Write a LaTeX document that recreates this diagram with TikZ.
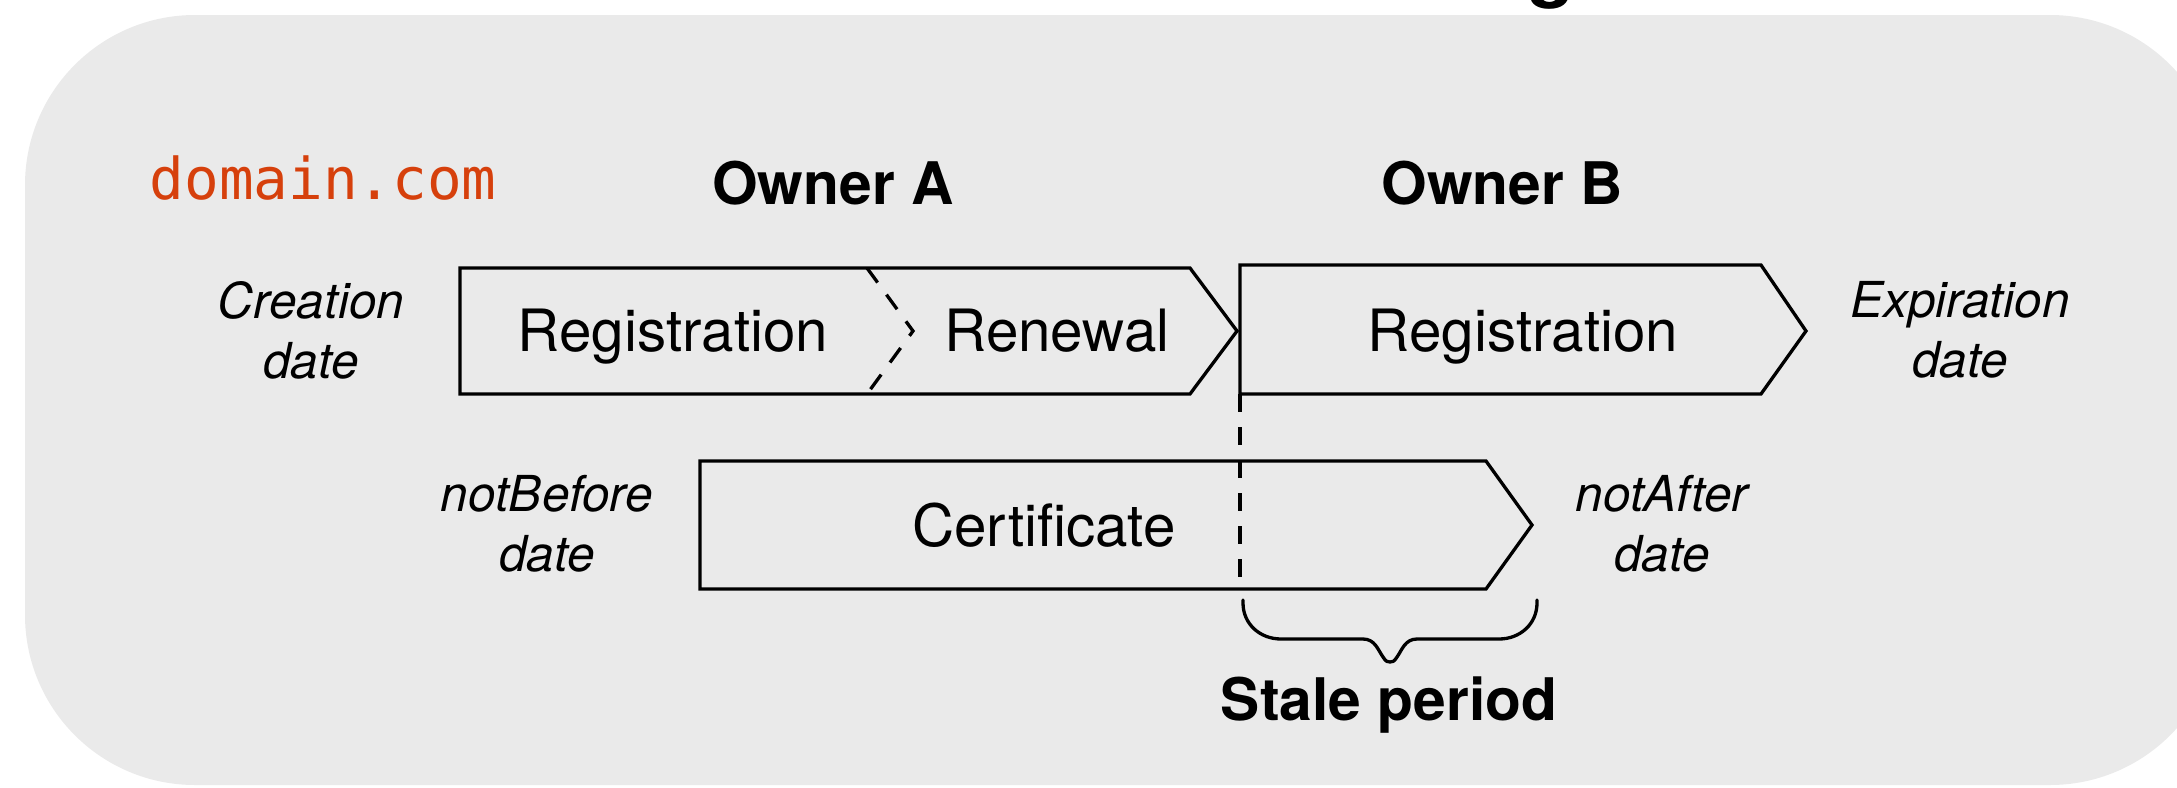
\documentclass[tikz,border=0pt]{standalone}
\usepackage{fontspec}
\setmainfont{TeX Gyre Heros}
\setmonofont{DejaVu Sans Mono}
\definecolor{panelgray}{RGB}{234,234,234}
\definecolor{domainred}{RGB}{214,64,12}

\begin{document}
\begin{tikzpicture}[x=0.1mm,y=-0.1mm,
  outline/.style={draw=black,line width=0.33mm,line join=miter},
  sepline/.style={draw=black,line width=0.33mm,dash pattern=on 1.8mm off 1.5mm},
  lbl/.style={font=\fontsize{16.6}{20}\selectfont,anchor=base,inner sep=0pt},
  head/.style={font=\fontsize{16.7}{20}\selectfont\bfseries,anchor=base,inner sep=0pt},
  datelbl/.style={font=\fontsize{14.1}{17}\selectfont\itshape,align=center,inner sep=0pt},
]
\useasboundingbox (0,0) rectangle (2177,787);

% panel
\fill[panelgray,rounded corners=17mm] (25,15) rectangle (2220,785);

% title descender peeking in from above
\node[font=\fontsize{22}{26}\selectfont\bfseries,anchor=base west,inner sep=0pt] (title) at (1527,-8) {g};

% domain and owners
\node[font=\fontsize{16.4}{20}\selectfont\ttfamily,text=domainred,anchor=base west,inner sep=0pt] (domain) at (149,199) {domain.com};
\node[head] (ownerA) at (833,204) {Owner A};
\node[head] (ownerB) at (1502,204) {Owner B};

% owner A: registration + renewal
\coordinate (a-nw) at (460,268);
\coordinate (a-sw) at (460,394);
\coordinate (a-ne) at (1190,268);
\coordinate (a-se) at (1190,394);
\coordinate (a-tip) at (1237,331);
\draw[outline] (a-nw) -- (a-ne) -- (a-tip) -- (a-se) -- (a-sw) -- cycle;
\coordinate (r-top) at (867,268);
\coordinate (r-tip) at (913,331);
\coordinate (r-bot) at (867,394);
\draw[sepline] (r-top) -- (r-tip) -- (r-bot);

% owner B: registration
\coordinate (b-nw) at (1240,265);
\coordinate (b-sw) at (1240,394);
\coordinate (b-ne) at (1761,265);
\coordinate (b-se) at (1761,394);
\coordinate (b-tip) at (1806,331);
\draw[outline] (b-nw) -- (b-ne) -- (b-tip) -- (b-se) -- (b-sw) -- cycle;

% certificate
\coordinate (c-nw) at (700,461);
\coordinate (c-sw) at (700,589);
\coordinate (c-ne) at (1486,461);
\coordinate (c-se) at (1486,589);
\coordinate (c-tip) at (1532,525);
\draw[outline] (c-nw) -- (c-ne) -- (c-tip) -- (c-se) -- (c-sw) -- cycle;

% ownership change marker
\coordinate (change-end) at (1240,582);
\draw[sepline] (b-sw) -- (change-end);

% box labels
\node[lbl] (regA) at (673,351) {Registration};
\node[lbl] (renew) at (1057,351) {Renewal};
\node[lbl] (regB) at (1523,351) {Registration};
\node[lbl] (cert) at (1044,546) {Certificate};

% dates
\node[datelbl] (creation) at (311,330) {Creation\\date};
\node[datelbl] (expiration) at (1960,330) {Expiration\\date};
\node[datelbl] (notbefore) at (547,524) {notBefore\\date};
\node[datelbl] (notafter) at (1662,524) {notAfter\\date};

% stale period brace
\coordinate (br-l) at (1243,600);
\coordinate (br-r) at (1537,600);
\coordinate (br-m) at (1390,662);
\draw[line width=0.33mm,line cap=round] (br-l) -- (1243,603)
  .. controls (1243,624) and (1260,639) .. (1281,639)
  -- (1363,639) .. controls (1375,639) and (1378,650) .. (1383,657)
  .. controls (1386,662) and (1388,662) .. (br-m)
  .. controls (1392,662) and (1394,662) .. (1397,657)
  .. controls (1402,650) and (1405,639) .. (1417,639)
  -- (1499,639) .. controls (1520,639) and (1537,624) .. (1537,603) -- (br-r);
\node[head] (stale) at (1389,720) {Stale period};
\end{tikzpicture}
\end{document}
